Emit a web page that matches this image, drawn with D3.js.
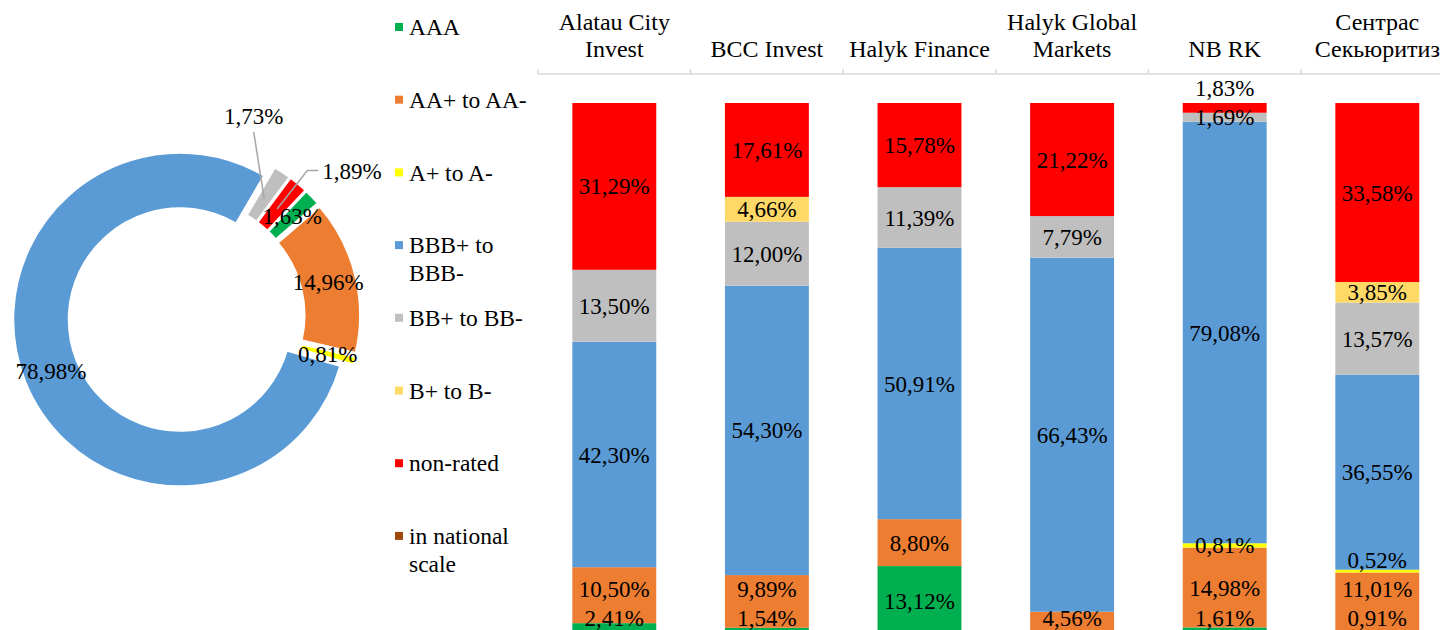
<!DOCTYPE html>
<html>
<head>
<meta charset="utf-8">
<script src="https://cdn.jsdelivr.net/npm/d3@7"></script>
<style>
  body { margin: 0; background: #fff; }
</style>
</head>
<body>
<div id="chart-area"></div>
<script>

// rating groups (legend order, also stacking order from bottom)
var ratingGroups = ["AAA", "AA+ to AA-", "A+ to A-", "BBB+ to BBB-", "BB+ to BB-", "B+ to B-", "non-rated", "in national scale"];
var legendLines = [["AAA"], ["AA+ to AA-"], ["A+ to A-"], ["BBB+ to", "BBB-"], ["BB+ to BB-"], ["B+ to B-"], ["non-rated"], ["in national", "scale"]];
var groupColors = ["#00b050", "#ed7d31", "#ffff00", "#5b9bd5", "#bfbfbf", "#ffd966", "#ff0000", "#9e480e"];

// companies
var companies = ["Alatau City Invest", "BCC Invest", "Halyk Finance", "Halyk Global Markets", "NB RK", "Сентрас Секьюритиз"];
var companyLines = [["Alatau City", "Invest"], ["BCC Invest"], ["Halyk Finance"], ["Halyk Global", "Markets"], ["NB RK"], ["Сентрас", "Секьюритиз"]];

// shares per company, %
var aaa      = [2.41, 1.54, 13.12, 0, 1.61, 0.91];
var aa       = [10.50, 9.89, 8.80, 4.56, 14.98, 11.01];
var a        = [0, 0, 0, 0, 0.81, 0.52];
var bbb      = [42.30, 54.30, 50.91, 66.43, 79.08, 36.55];
var bb       = [13.50, 12.00, 11.39, 7.79, 1.69, 13.57];
var b        = [0, 4.66, 0, 0, 0, 3.85];
var nonRated = [31.29, 17.61, 15.78, 21.22, 1.83, 33.58];
var national = [0, 0, 0, 0, 0, 0];

// total portfolio, %
var totalShares = [1.63, 14.96, 0.81, 78.98, 1.73, 0, 1.89, 0];

var series = [aaa, aa, a, bbb, bb, b, nonRated, national];

var W = 1440, H = 630;

var svg = d3.select("#chart-area")
    .append("svg")
    .attr("width", W)
    .attr("height", H)
    .attr("font-family", "'Liberation Serif', Tinos, 'Times New Roman', Times, 'DejaVu Serif', serif")
    .attr("font-size", 23);

function fmt(v) {
    return d3.format(".2f")(v).replace(".", ",") + "%";
}

// ---------------- donut ----------------
var cx = 186.5, cy = 317,
    outerR = 167, innerR = 111,
    explode = 7;

var pie = d3.pie()
    .sort(null)
    .startAngle(43.4 * Math.PI / 180)
    .endAngle(43.4 * Math.PI / 180 + 2 * Math.PI)
    .value(function(d) { return d; });

var arcs = pie(totalShares);

var arc = d3.arc().innerRadius(innerR).outerRadius(outerR);

var donut = svg.append("g")
    .attr("transform", "translate(" + cx + "," + cy + ")");

function polar(ang, r) {
    return [Math.sin(ang) * r, -Math.cos(ang) * r];
}

donut.selectAll("path")
    .data(arcs.filter(function(d) { return d.value > 0; }))
    .enter().append("path")
    .attr("d", arc)
    .attr("transform", function(d) {
        var p = polar((d.startAngle + d.endAngle) / 2, explode);
        return "translate(" + p[0] + "," + p[1] + ")";
    })
    .attr("fill", function(d) { return groupColors[d.index]; })
    .attr("stroke", "#fff")
    .attr("stroke-width", 2.5);

// slices too thin for an inside label get a callout
var calloutShift = { "BB+ to BB-": -15, "non-rated": 8.5 };
var midR = (innerR + outerR) / 2 + explode;

arcs.filter(function(d) { return d.value > 0; }).forEach(function(d) {
    var name = ratingGroups[d.index];
    var mid = (d.startAngle + d.endAngle) / 2;
    if (name in calloutShift) {
        var la = mid + calloutShift[name] * Math.PI / 180;
        var lp = polar(la, name === "non-rated" ? 221 : 212);
        var anchor = polar(mid, 141);
        var t = donut.append("text")
            .attr("x", lp[0]).attr("y", lp[1])
            .attr("dy", "0.35em")
            .attr("text-anchor", "middle")
            .text(fmt(d.value));
        var tw = t.node().getComputedTextLength();
        var pts;
        if (lp[0] - anchor[0] > 40) {
            var x0 = lp[0] - tw / 2 - 4;
            pts = [[x0, lp[1]], [x0 - 11, lp[1]], anchor];
        } else {
            pts = [[lp[0], lp[1] + 16], anchor];
        }
        donut.insert("path", "text")
            .attr("d", d3.line()(pts))
            .attr("fill", "none")
            .attr("stroke", "#a6a6a6")
            .attr("stroke-width", 1.5);
    } else {
        var p = polar(mid, midR);
        donut.append("text")
            .attr("x", p[0]).attr("y", p[1])
            .attr("dy", "0.35em")
            .attr("text-anchor", "middle")
            .text(fmt(d.value));
    }
});

// ---------------- legend ----------------
var legend = svg.append("g").attr("class", "legend").attr("font-size", 23.5);
var legendRow = legend.selectAll("g")
    .data(ratingGroups)
    .enter().append("g")
    .attr("transform", function(d, i) { return "translate(395," + (27 + i * 72.7) + ")"; });

legendRow.append("rect")
    .attr("x", 0).attr("y", -4)
    .attr("width", 8).attr("height", 8)
    .attr("fill", function(d, i) { return groupColors[i]; });

legendRow.append("text")
    .attr("x", 14)
    .selectAll("tspan")
    .data(function(d, i) { return legendLines[i]; })
    .enter().append("tspan")
    .attr("x", 14)
    .attr("y", function(d, j) { return j * 28; })
    .attr("dy", "0.35em")
    .text(function(d) { return d; });

// ---------------- stacked bars ----------------
var table = companies.map(function(c, i) {
    var row = { company: c };
    ratingGroups.forEach(function(g, k) { row[g] = series[k][i]; });
    return row;
});

var stack = d3.stack().keys(ratingGroups);
var layers = stack(table);

var xScale = d3.scaleBand()
    .domain(companies)
    .range([538, 1453.6])
    .paddingInner(0.45)
    .paddingOuter(0.225);

var yScale = d3.scaleLinear()
    .domain([0, 100])
    .range([636, 103]);

var bars = svg.append("g");

bars.selectAll("g")
    .data(layers)
    .enter().append("g")
    .attr("fill", function(d, k) { return groupColors[k]; })
    .selectAll("rect")
    .data(function(d) { return d.filter(function(s) { return s[1] - s[0] > 0; }); })
    .enter().append("rect")
    .attr("x", function(s) { return xScale(s.data.company); })
    .attr("y", function(s) { return yScale(s[1]); })
    .attr("width", xScale.bandwidth())
    .attr("height", function(s) { return yScale(s[0]) - yScale(s[1]); });

// value labels, kept inside the chart area and apart from each other
var labelBottom = 618, labelGap = 29;
companies.forEach(function(c, i) {
    var prev = null;
    layers.forEach(function(layer, k) {
        var s = layer[i];
        var v = s[1] - s[0];
        if (v <= 0) return;
        var y = Math.min((yScale(s[0]) + yScale(s[1])) / 2, labelBottom);
        if (prev !== null) y = Math.min(y, prev - labelGap);
        prev = y;
        bars.append("text")
            .attr("x", xScale(c) + xScale.bandwidth() / 2)
            .attr("y", y)
            .attr("dy", "0.35em")
            .attr("text-anchor", "middle")
            .text(fmt(v));
    });
});

// category axis on top
var axisY = 74;
var axis = svg.append("g").attr("font-size", 24);
axis.append("line")
    .attr("x1", xScale.range()[0]).attr("x2", W)
    .attr("y1", axisY).attr("y2", axisY)
    .attr("stroke", "#d9d9d9").attr("stroke-width", 1.5);

var gapHalf = (xScale.step() - xScale.bandwidth()) / 2;
axis.selectAll("line.tick")
    .data(companies)
    .enter().append("line")
    .attr("class", "tick")
    .attr("x1", function(c) { return xScale(c) - gapHalf; })
    .attr("x2", function(c) { return xScale(c) - gapHalf; })
    .attr("y1", axisY - 5).attr("y2", axisY)
    .attr("stroke", "#d9d9d9").attr("stroke-width", 1.5);

axis.selectAll("text")
    .data(companies)
    .enter().append("text")
    .attr("text-anchor", "middle")
    .each(function(c, i) {
        var lines = companyLines[i];
        var el = d3.select(this);
        lines.forEach(function(line, j) {
            el.append("tspan")
                .attr("x", xScale(c) + xScale.bandwidth() / 2)
                .attr("y", 49 - (lines.length - 1 - j) * 27)
                .attr("dy", "0.35em")
                .text(line);
        });
    });

</script>
</body>
</html>
